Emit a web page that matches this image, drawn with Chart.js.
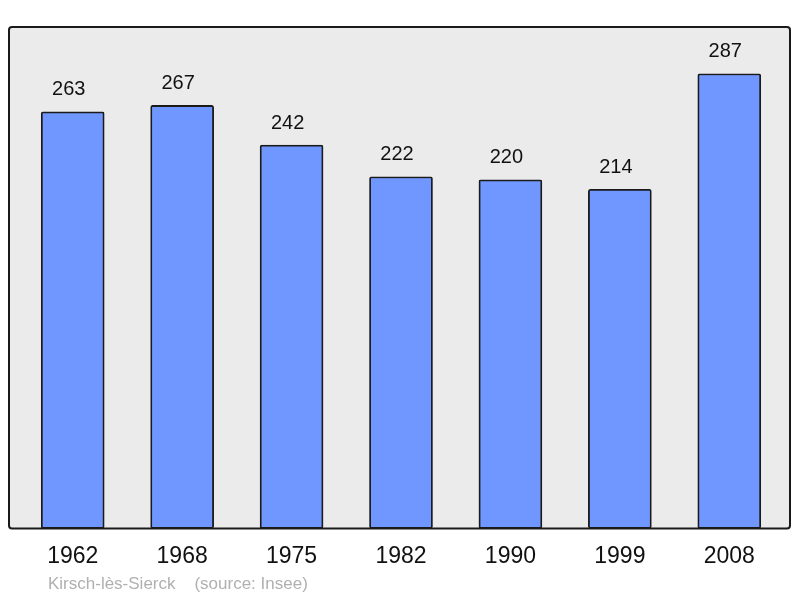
<!DOCTYPE html>
<html>
<head>
<meta charset="utf-8">
<script src="https://cdn.jsdelivr.net/npm/chart.js@4/dist/chart.umd.min.js"></script>
<style>
  html, body { margin: 0; padding: 0; background: #fff; }
  #wrap { width: 800px; height: 598px; }
</style>
</head>
<body>
<div id="wrap"><canvas id="popChart" width="800" height="598"></canvas></div>
<script>
const years = ["1962", "1968", "1975", "1982", "1990", "1999", "2008"];
const population = [263, 267, 242, 222, 220, 214, 287];
const footerText = "Kirsch-lès-Sierck    (source: Insee)";

const FONT = "'Liberation Sans', Arial, sans-serif";

// grey framed plot background
const framePlugin = {
  id: "frame",
  beforeDraw(chart) {
    const { ctx, chartArea: a } = chart;
    const x = a.left - 9, y = a.top, w = a.right + 6 - x, h = a.bottom - a.top;
    ctx.save();
    ctx.beginPath();
    ctx.roundRect(x, y, w, h, 3);
    ctx.fillStyle = "#ebebeb";
    ctx.fill();
    ctx.restore();
  },
  afterDraw(chart) {
    const { ctx, chartArea: a } = chart;
    const x = a.left - 9, y = a.top, w = a.right + 6 - x, h = a.bottom - a.top;
    ctx.save();
    ctx.beginPath();
    ctx.roundRect(x, y, w, h, 3);
    ctx.lineWidth = 2;
    ctx.strokeStyle = "#1a1a1a";
    ctx.stroke();
    // footer
    ctx.font = "17px " + FONT;
    ctx.fillStyle = "#b0b0b0";
    ctx.textBaseline = "middle";
    ctx.textAlign = "left";
    ctx.fillText(footerText, 48, 584);
    ctx.restore();
  }
};

// values above bars (slightly left of centre, as in the original)
const valuePlugin = {
  id: "values",
  afterDatasetsDraw(chart) {
    const { ctx } = chart;
    const meta = chart.getDatasetMeta(0);
    ctx.save();
    ctx.font = "20px " + FONT;
    ctx.fillStyle = "#111";
    ctx.textAlign = "center";
    ctx.textBaseline = "middle";
    meta.data.forEach((bar, i) => {
      ctx.fillText(String(population[i]), bar.x - 4, bar.y - 22);
    });
    ctx.restore();
  }
};

new Chart(document.getElementById("popChart").getContext("2d"), {
  type: "bar",
  data: {
    labels: years,
    datasets: [{
      data: population,
      backgroundColor: "rgb(112,150,255)",
      borderColor: "#1a1a1a",
      borderWidth: 1.8,
      borderRadius: 2,
      borderSkipped: false,
      barThickness: 63
    }]
  },
  options: {
    responsive: false,
    animation: false,
    layout: { padding: { left: 18, right: 16, top: 27, bottom: 14 } },
    plugins: { legend: { display: false }, tooltip: { enabled: false } },
    scales: {
      x: {
        grid: { display: false, drawTicks: false },
        border: { display: false },
        ticks: { color: "#111", font: { family: FONT, size: 23 }, padding: 14 }
      },
      y: {
        display: false,
        min: 0,
        max: 316.5
      }
    }
  },
  plugins: [framePlugin, valuePlugin]
});
</script>
</body>
</html>
